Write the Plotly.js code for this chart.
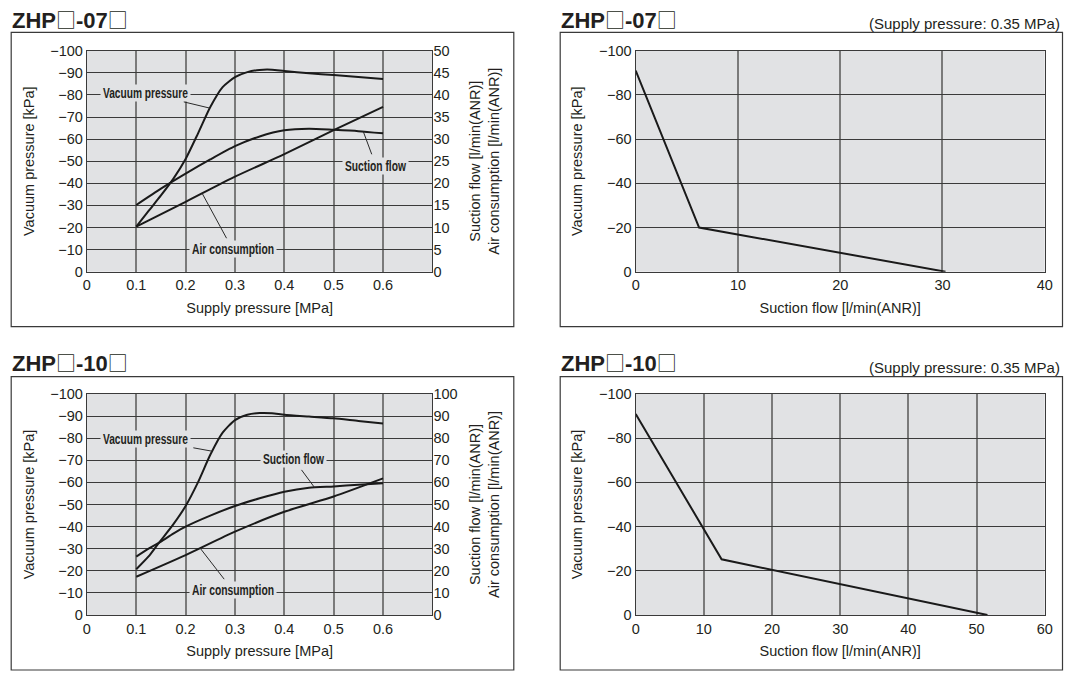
<!DOCTYPE html>
<html>
<head>
<meta charset="utf-8">
<script src="https://cdn.plot.ly/plotly-3.0.1.min.js"></script>
<style>html,body{margin:0;padding:0;background:#fff;}#chart{width:1068px;height:674px;}</style>
</head>
<body>
<div id="chart"></div>
<script>
// ---------- DATA ----------
// ZHP□-07□ : characteristics vs supply pressure
const supply07 = [0.1, 0.125, 0.15, 0.175, 0.2, 0.225, 0.25, 0.275, 0.3, 0.325, 0.35, 0.375, 0.4, 0.45, 0.5, 0.55, 0.6];
const vacuum07 = [-20.4, -27.5, -34.5, -42, -51, -62.5, -74.5, -83.5, -88, -90.3, -91.3, -91.4, -90.8, -89.8, -89, -88.1, -87.2];
const supplyFlow07 = [0.1, 0.15, 0.2, 0.25, 0.3, 0.35, 0.4, 0.45, 0.5, 0.55, 0.6];
const suction07 = [15.1, 18.8, 22.2, 25.4, 28.4, 30.6, 32, 32.35, 32.1, 31.8, 31.3];
const supplyAir07 = [0.1, 0.2, 0.3, 0.4, 0.5, 0.6];
const air07 = [10.2, 15.8, 21.5, 26.6, 32.05, 37.3];

// ZHP□-10□ : characteristics vs supply pressure
const supply10 = [0.1, 0.125, 0.145, 0.175, 0.2, 0.225, 0.25, 0.275, 0.3, 0.325, 0.35, 0.375, 0.4, 0.45, 0.5, 0.55, 0.6];
const vacuum10 = [-20.7, -26.5, -32.4, -41, -49.3, -60, -72.5, -82.5, -88.2, -90.6, -91.4, -91.3, -90.6, -89.8, -89, -87.8, -86.7];
const supplyFlow10 = [0.1, 0.125, 0.15, 0.175, 0.2, 0.25, 0.3, 0.35, 0.4, 0.45, 0.5, 0.55, 0.6];
const suction10 = [26.4, 30, 33.2, 36.8, 40, 45, 49.3, 52.8, 55.8, 57.6, 58.2, 58.9, 59.6];
const supplyAir10 = [0.1, 0.2, 0.3, 0.4, 0.5, 0.6];
const air10 = [17.3, 27.1, 37.7, 46.7, 53.6, 61.8];

// Flow characteristics (supply pressure 0.35 MPa)
const flowX07 = [0, 6.2, 30.3];
const flowVac07 = [-91, -20, 0];
const flowX10 = [0, 12.6, 51.6];
const flowVac10 = [-91, -25.2, 0];

// Tick labels
const supplyTicks = [0, 0.1, 0.2, 0.3, 0.4, 0.5, 0.6];
const supplyTickText = ['0', '0.1', '0.2', '0.3', '0.4', '0.5', '0.6'];
const vacTicks10 = [0, -10, -20, -30, -40, -50, -60, -70, -80, -90, -100];
const vacTicks20 = [0, -20, -40, -60, -80, -100];
const flowTicks07 = [0, 5, 10, 15, 20, 25, 30, 35, 40, 45, 50];
const flowTicks10 = [0, 10, 20, 30, 40, 50, 60, 70, 80, 90, 100];
const flowAxisTicks07 = [0, 10, 20, 30, 40];
const flowAxisTicks10 = [0, 10, 20, 30, 40, 50, 60];

const model07 = '07';
const model10 = '10';
const supplyNote = '(Supply pressure: 0.35 MPa)';
const labelVacuum = 'Vacuum pressure';
const labelSuction = 'Suction flow';
const labelAir = 'Air consumption';

// ---------- HELPERS ----------
function interp(xs, ys, x) {
  for (let i = 0; i < xs.length - 1; i++) {
    if (x >= xs[i] && x <= xs[i + 1]) {
      const t = (x - xs[i]) / (xs[i + 1] - xs[i]);
      return ys[i] + t * (ys[i + 1] - ys[i]);
    }
  }
  return ys[ys.length - 1];
}

const W = 1068, H = 674;
const px = v => v / W;
const py = v => 1 - v / H;

const FONT = 'Liberation Sans, Arial, Helvetica, sans-serif';
const TXT = '#231f20';
const PLOTBG = '#e1e2e4';
const LINE = '#1a1a1a';

const tickFont = {family: FONT, size: 14.5, color: TXT};
const titleFont = {family: FONT, size: 14.5, color: TXT};

function curve(x, y, xa, ya) {
  return {x: x, y: y, xaxis: xa, yaxis: ya, type: 'scatter', mode: 'lines',
    line: {color: LINE, width: 2, shape: 'spline', smoothing: 0.6}, hoverinfo: 'skip'};
}
function straight(x, y, xa, ya) {
  return {x: x, y: y, xaxis: xa, yaxis: ya, type: 'scatter', mode: 'lines',
    line: {color: LINE, width: 2}, hoverinfo: 'skip'};
}

const traces = [
  curve(supply07, vacuum07, 'x', 'y'),
  curve(supplyFlow07, suction07, 'x', 'y2'),
  curve(supplyAir07, air07, 'x', 'y2'),
  straight(flowX07, flowVac07, 'x3', 'y3'),
  curve(supply10, vacuum10, 'x4', 'y4'),
  curve(supplyFlow10, suction10, 'x4', 'y5'),
  curve(supplyAir10, air10, 'x4', 'y5'),
  straight(flowX10, flowVac10, 'x6', 'y6')
];

function xAxis(domain, range, tickvals, ticktext, title, anchor) {
  return {
    domain: domain, range: range, anchor: anchor,
    tickmode: 'array', tickvals: tickvals, ticktext: ticktext,
    ticks: '', tickfont: tickFont,
    showgrid: true, gridcolor: '#7a7a7a', gridwidth: 2,
    zeroline: false, showline: true, linecolor: '#3a3a3a', linewidth: 1.2, mirror: true,
    title: {text: title, font: titleFont, standoff: 10},
    fixedrange: true
  };
}
function yAxis(domain, tickvals, title, anchor) {
  return {
    domain: domain, range: [0, -100], anchor: anchor,
    tickmode: 'array', tickvals: tickvals,
    ticks: '', tickfont: tickFont,
    showgrid: true, gridcolor: '#3a3a3a', gridwidth: 1,
    zeroline: false, showline: true, linecolor: '#3a3a3a', linewidth: 1.2, mirror: true,
    title: {text: title, font: titleFont, standoff: 12},
    fixedrange: true
  };
}
function yRight(overlay, range, tickvals, anchor, standoff) {
  return {
    overlaying: overlay, side: 'right', anchor: anchor, range: range,
    tickmode: 'array', tickvals: tickvals, ticks: '', tickfont: tickFont,
    showgrid: false, zeroline: false, showline: false,
    title: {text: 'Suction flow [l/min(ANR)]<br>Air consumption [l/min(ANR)]', font: titleFont, standoff: standoff},
    fixedrange: true
  };
}

const dxL = [px(86.9), px(432.4)];
const dxR = [px(635.7), px(1044.7)];
const dyT = [py(271.7), py(50.7)];
const dyB = [py(615), py(394)];

const layout = {
  width: W, height: H,
  margin: {l: 0, r: 0, t: 0, b: 0},
  paper_bgcolor: '#ffffff', plot_bgcolor: PLOTBG,
  showlegend: false,
  font: {family: FONT, color: TXT},
  xaxis: xAxis(dxL, [0, 0.7], supplyTicks, supplyTickText, 'Supply pressure [MPa]', 'y'),
  yaxis: yAxis(dyT, vacTicks10, 'Vacuum pressure [kPa]', 'x'),
  yaxis2: yRight('y', [0, 50], flowTicks07, 'x', 21),
  xaxis3: xAxis(dxR, [0, 40], flowAxisTicks07, flowAxisTicks07.map(String), 'Suction flow [l/min(ANR)]', 'y3'),
  yaxis3: yAxis(dyT, vacTicks20, 'Vacuum pressure [kPa]', 'x3'),
  xaxis4: xAxis(dxL, [0, 0.7], supplyTicks, supplyTickText, 'Supply pressure [MPa]', 'y4'),
  yaxis4: yAxis(dyB, vacTicks10, 'Vacuum pressure [kPa]', 'x4'),
  yaxis5: yRight('y4', [0, 100], flowTicks10, 'x4', 13),
  xaxis6: xAxis(dxR, [0, 60], flowAxisTicks10, flowAxisTicks10.map(String), 'Suction flow [l/min(ANR)]', 'y6'),
  yaxis6: yAxis(dyB, vacTicks20, 'Vacuum pressure [kPa]', 'x6'),
  shapes: [
    [11.2, 32.3, 513.8, 326.7], [560.2, 32.3, 1062.5, 326.7],
    [11.2, 376.7, 513.8, 670], [560.2, 376.7, 1062.5, 670]
  ].map(r => ({type: 'rect', xref: 'paper', yref: 'paper',
    x0: px(r[0]), x1: px(r[2]), y0: py(r[3]), y1: py(r[1]),
    line: {color: '#3a3a3a', width: 1.2}, fillcolor: 'rgba(0,0,0,0)', layer: 'below'})),
  annotations: []
};

const SQ = '<span style="font-family:Noto Sans CJK JP;font-weight:normal;font-size:20px">\u25A1</span>';
function heading(model, x, y) {
  return {xref: 'paper', yref: 'paper', x: px(x), y: py(y), xanchor: 'left', yanchor: 'middle',
    text: '<b>ZHP' + SQ + '-' + model + SQ + '</b>', showarrow: false,
    font: {family: FONT, size: 22, color: TXT}};
}
function note(text, x, y) {
  return {xref: 'paper', yref: 'paper', x: px(x), y: py(y), xanchor: 'right', yanchor: 'middle',
    text: text, showarrow: false, font: {family: FONT, size: 15, color: TXT}};
}
// condensed label widths (px) as seen in the reference lettering
const labelWidth = {'Vacuum pressure': 85, 'Suction flow': 61, 'Air consumption': 82};
function label(text, xr, yr, tipX, tipY, textX, textY) {
  return {xref: xr, yref: yr, axref: xr, ayref: yr, x: tipX, y: tipY, ax: textX, ay: textY,
    text: text, showarrow: true, arrowhead: 0, arrowwidth: 1, arrowcolor: '#2a2a2a',
    bgcolor: PLOTBG, borderpad: 0, standoff: 0, startstandoff: 3,
    width: labelWidth[text] + 4,
    font: {family: FONT, size: 14, color: TXT, weight: 'bold'}};
}

layout.annotations.push(
  heading(model07, 10, 19), heading(model07, 559, 19),
  heading(model10, 10, 362), heading(model10, 559, 362),
  note(supplyNote, 1062, 23), note(supplyNote, 1062, 367),
  label(labelVacuum, 'x', 'y', 0.249, interp(supply07, vacuum07, 0.249), 0.1185, -81),
  label(labelSuction, 'x', 'y2', 0.56, interp(supplyFlow07, suction07, 0.56), 0.5856, 24),
  label(labelAir, 'x', 'y2', 0.2336, interp(supplyAir07, air07, 0.2336), 0.2952, 5.05),
  label(labelVacuum, 'x4', 'y4', 0.254, interp(supply10, vacuum10, 0.254), 0.1185, -79.6),
  label(labelSuction, 'x4', 'y5', 0.461, interp(supplyFlow10, suction10, 0.461), 0.4185, 70.6),
  label(labelAir, 'x4', 'y5', 0.2295, interp(supplyAir10, air10, 0.2295), 0.2952, 11.3)
);

Plotly.newPlot('chart', traces, layout, {displayModeBar: false, responsive: false}).then(gd => {
  // emulate the condensed lettering of the curve labels
  gd.querySelectorAll('.annotation-text').forEach(t => {
    const s = t.textContent;
    if (labelWidth[s]) {
      t.setAttribute('textLength', labelWidth[s]);
      t.setAttribute('lengthAdjust', 'spacingAndGlyphs');
    }
  });
});
</script>
</body>
</html>
